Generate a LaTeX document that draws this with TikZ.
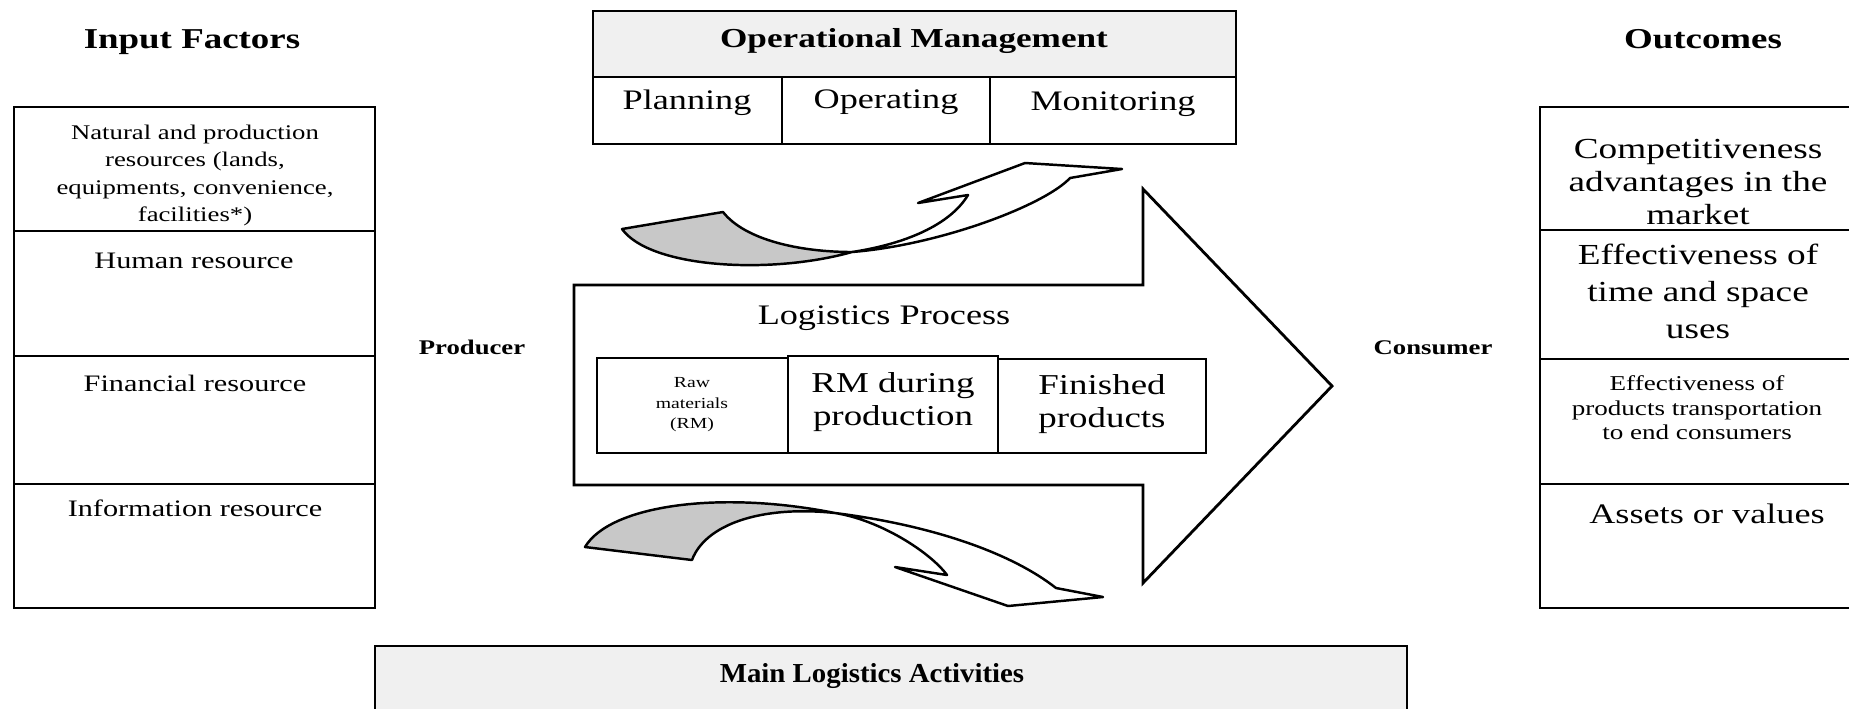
\documentclass[tikz,border=0pt]{standalone}
\usepackage{fontspec}
\setmainfont{Liberation Serif}
\usetikzlibrary{fit}
\definecolor{hdrgray}{RGB}{240,240,240}
\definecolor{tailgray}{RGB}{200,200,200}
\newcommand{\sqz}[1]{\scalebox{1}[0.78]{\begin{tabular}{@{}c@{}}#1\end{tabular}}}
\begin{document}
\begin{tikzpicture}[x=0.01cm,y=-0.01cm,
  cell/.style={draw, line width=0.8pt, inner sep=0pt},
  hcell/.style={cell, fill=hdrgray},
  txt/.style={align=center, inner sep=0pt},
  ribbon/.style={draw, line width=0.7pt, line join=round},
  bigarrow/.style={draw, line width=0.8pt, line join=miter}]
\useasboundingbox (0,0) rectangle (1849,708);
\fill[white] (0,0) rectangle (1849,708);

% ---------- titles ----------
\node[txt, font=\fontsize{10.5}{12}\selectfont\bfseries] (tin) at (192,42) {\sqz{Input Factors}};
\node[txt, font=\fontsize{10.5}{12}\selectfont\bfseries] (tout) at (1703,42) {\sqz{Outcomes}};

% ---------- input factors ----------
\node[cell, fit={(14,107) (375,231)}] (in1) {};
\node[cell, fit={(14,231) (375,356)}] (in2) {};
\node[cell, fit={(14,356) (375,484)}] (in3) {};
\node[cell, fit={(14,484) (375,608)}] (in4) {};
\node[txt, font=\fontsize{7.6}{10}\selectfont] (in1t) at (195,175) {\sqz{Natural and production\\resources (lands,\\equipments, convenience,\\facilities*)}};
\node[txt, font=\fontsize{8.6}{10}\selectfont] (in2t) at (194,263) {\sqz{Human resource}};
\node[txt, font=\fontsize{8.6}{10}\selectfont] (in3t) at (195,386) {\sqz{Financial resource}};
\node[txt, font=\fontsize{8.6}{10}\selectfont] (in4t) at (195,511) {\sqz{Information resource}};

% ---------- producer / consumer ----------
\node[txt, font=\fontsize{7.6}{9}\selectfont\bfseries] (prod) at (472,350) {\sqz{Producer}};
\node[txt, font=\fontsize{7.6}{9}\selectfont\bfseries] (cons) at (1433,350) {\sqz{Consumer}};

% ---------- operational management ----------
\node[hcell, fit={(593,11) (1236,77)}] (om) {};
\node[cell, fit={(593,77) (782,144)}] (om1) {};
\node[cell, fit={(782,77) (990,144)}] (om2) {};
\node[cell, fit={(990,77) (1236,144)}] (om3) {};
\node[txt, font=\fontsize{10}{12}\selectfont\bfseries] (omt) at (914,41) {\sqz{Operational Management}};
\node[txt, font=\fontsize{10.3}{12}\selectfont] (om1t) at (687,103) {\sqz{Planning}};
\node[txt, font=\fontsize{10.3}{12}\selectfont] (om2t) at (886,102) {\sqz{Operating}};
\node[txt, font=\fontsize{10.3}{12}\selectfont] (om3t) at (1113,104) {\sqz{Monitoring}};

% ---------- big block arrow ----------
\draw[bigarrow, fill=white] (574,285) -- (1143,285) -- (1143,189) -- (1332,386)
  -- (1143,583) -- (1143,485) -- (574,485) -- cycle;
\node[txt, font=\fontsize{10.3}{12}\selectfont] (lp) at (884,318) {\sqz{Logistics Process}};
\node[cell, fit={(597,358) (788,453)}] (lp1) {};
\node[cell, fit={(788,356) (998,453)}] (lp2) {};
\node[cell, fit={(998,359) (1206,453)}] (lp3) {};
\node[txt, font=\fontsize{5.6}{7.3}\selectfont] (lp1t) at (692,404) {\sqz{Raw\\materials\\(RM)}};
\node[txt, font=\fontsize{10.5}{12}\selectfont] (lp2t) at (893,402) {\sqz{RM during\\production}};
\node[txt, font=\fontsize{10.5}{12}\selectfont] (lp3t) at (1102,404) {\sqz{Finished\\products}};

% ---------- upper curved arrow ----------
\draw[ribbon, fill=tailgray] (622,229) -- (723,212)
  .. controls (745,240) and (800,252) .. (852,252)
  .. controls (770,275) and (650,268) .. cycle;
\draw[ribbon, fill=white] (852,252)
  .. controls (905,244) and (950,225) .. (968,195)
  -- (918,203) -- (1025,163) -- (1122,169) -- (1070,178)
  .. controls (1045,205) and (940,245) .. cycle;

% ---------- lower curved arrow ----------
\draw[ribbon, fill=tailgray] (585,547)
  .. controls (610,505) and (720,490) .. (835,513)
  .. controls (760,505) and (705,525) .. (692,560) -- cycle;
\draw[ribbon, fill=white] (835,513)
  .. controls (930,525) and (1010,552) .. (1056,588)
  -- (1103,597) -- (1008,606) -- (895,567) -- (947,575)
  .. controls (930,552) and (880,520) .. cycle;

% ---------- outcomes ----------
\node[cell, fit={(1540,107) (1852,230)}] (out1) {};
\node[cell, fit={(1540,230) (1852,359)}] (out2) {};
\node[cell, fit={(1540,359) (1852,484)}] (out3) {};
\node[cell, fit={(1540,484) (1852,608)}] (out4) {};
\node[txt, font=\fontsize{10.6}{11.9}\selectfont] (out1t) at (1698,185) {\sqz{Competitiveness\\advantages in the\\market}};
\node[txt, font=\fontsize{10.6}{13.5}\selectfont] (out2t) at (1698,294) {\sqz{Effectiveness of\\time and space\\uses}};
\node[txt, font=\fontsize{7.7}{9.1}\selectfont] (out3t) at (1697,410) {\sqz{Effectiveness of\\products transportation\\to end consumers}};
\node[txt, font=\fontsize{10.3}{12}\selectfont] (out4t) at (1707,517) {\sqz{Assets or values}};

% ---------- main logistics activities ----------
\node[hcell, fit={(375,646) (1407,720)}] (mla) {};
\node[txt, font=\fontsize{10}{12}\selectfont\bfseries] (mlat) at (872,676) {\sqz{\scalebox{0.82}[1]{Main Logistics Activities}}};
\end{tikzpicture}
\end{document}
